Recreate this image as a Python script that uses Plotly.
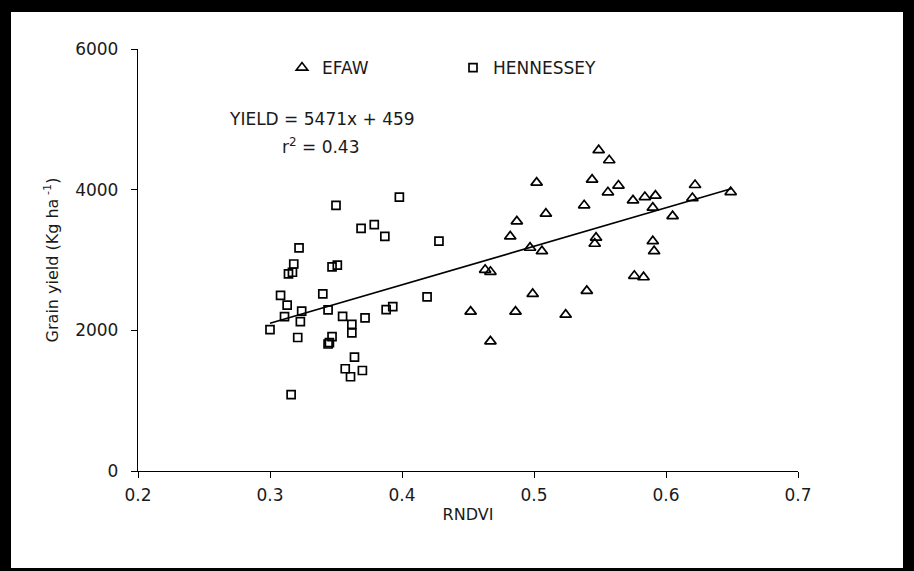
import plotly.graph_objects as go

# ---------------- data ----------------
efaw_rndvi = [0.452, 0.463, 0.467, 0.467, 0.482, 0.486, 0.487, 0.497, 0.499, 0.502,
              0.506, 0.509, 0.524, 0.538, 0.540, 0.544, 0.546, 0.547, 0.549, 0.556,
              0.557, 0.564, 0.575, 0.576, 0.583, 0.584, 0.590, 0.590, 0.591, 0.592,
              0.605, 0.620, 0.622, 0.649]
efaw_yield = [2266, 2860, 2832, 1843, 3335, 2266, 3549, 3174, 2518, 4100,
              3125, 3659, 2223, 3777, 2561, 4143, 3231, 3317, 4561, 3962,
              4418, 4058, 3848, 2775, 2755, 3895, 3744, 3268, 3125, 3915,
              3624, 3881, 4066, 3966]

henn_rndvi = [0.300, 0.308, 0.311, 0.313, 0.314, 0.317, 0.318, 0.322, 0.316, 0.321,
              0.324, 0.323, 0.340, 0.344, 0.344, 0.345, 0.347, 0.347, 0.351, 0.350,
              0.355, 0.357, 0.361, 0.362, 0.362, 0.364, 0.369, 0.370, 0.372, 0.379,
              0.387, 0.388, 0.393, 0.398, 0.419, 0.428]
henn_yield = [2010, 2498, 2195, 2359, 2803, 2826, 2943, 3171, 1086, 1898,
              2273, 2124, 2518, 2290, 1806, 1824, 1910, 2903, 2926, 3777,
              2199, 1454, 1340, 2085, 1963, 1620, 3449, 1429, 2176, 3502,
              3335, 2295, 2337, 3895, 2476, 3268]

fit_slope = 5471
fit_intercept = 459
fit_x = [0.30, 0.65]
fit_y = [fit_slope * v + fit_intercept for v in fit_x]

x_ticks = [0.2, 0.3, 0.4, 0.5, 0.6, 0.7]
y_ticks = [0, 2000, 4000, 6000]

FONT = "DejaVu Sans"
TXT = "#1a1a1a"

fig = go.Figure()

fig.add_trace(go.Scatter(
    x=fit_x, y=fit_y, mode="lines", showlegend=False,
    line=dict(color="black", width=1.6), hoverinfo="skip"))

fig.add_trace(go.Scatter(
    x=efaw_rndvi, y=efaw_yield, mode="markers", name="EFAW", legend="legend",
    marker=dict(symbol="triangle-up-open", size=10, color="black",
                line=dict(color="black", width=1.7))))

fig.add_trace(go.Scatter(
    x=henn_rndvi, y=henn_yield, mode="markers", name="HENNESSEY", legend="legend2",
    marker=dict(symbol="square-open", size=8, color="black",
                line=dict(color="black", width=1.7))))

# paper coordinate helpers (pixel -> paper) for layout placement
L, T, W, H = 138, 49, 660, 422


def px(xpix):
    return (xpix - L) / W


def py(ypix):
    return (T + H - ypix) / H


legend_common = dict(orientation="h", yanchor="middle", xanchor="left",
                     bgcolor="rgba(0,0,0,0)", borderwidth=0,
                     font=dict(family=FONT, size=17, color=TXT))
fig.update_layout(
    legend=dict(x=px(282), y=py(68), **legend_common),
    legend2=dict(x=px(453), y=py(68), **legend_common),
)

fig.add_annotation(x=px(322), y=py(119), xref="paper", yref="paper",
                   xanchor="center", yanchor="middle",
                   text="YIELD = 5471x + 459", showarrow=False,
                   font=dict(family=FONT, size=17, color=TXT))
fig.add_annotation(x=px(320), y=py(146), xref="paper", yref="paper",
                   xanchor="center", yanchor="middle",
                   text="r<sup>2</sup> = 0.43", showarrow=False,
                   font=dict(family=FONT, size=17, color=TXT))

# black picture frame
frame = [(-20, -20, 11, 600), (903, -20, 940, 600), (-20, -20, 940, 12), (-20, 568, 940, 600)]
for x0, y0, x1, y1 in frame:
    fig.add_shape(type="rect", xref="paper", yref="paper",
                  x0=px(x0), x1=px(x1), y0=py(y0), y1=py(y1),
                  fillcolor="black", line=dict(width=0), layer="above")

fig.update_xaxes(
    range=[0.2, 0.7], tickvals=x_ticks, ticktext=[f"{v:.1f}" for v in x_ticks],
    showline=True, linecolor="black", linewidth=1.3, mirror=False,
    ticks="outside", ticklen=6, tickcolor="black", tickwidth=1.3,
    showgrid=False, zeroline=False, ticklabelstandoff=2,
    tickfont=dict(family=FONT, size=17, color=TXT),
    title=dict(text="RNDVI", font=dict(family=FONT, size=16, color=TXT), standoff=5),
)
fig.update_yaxes(
    range=[0, 6000], tickvals=y_ticks, ticktext=[str(v) for v in y_ticks],
    showline=True, linecolor="black", linewidth=1.3, mirror=False,
    ticks="outside", ticklen=6, tickcolor="black", tickwidth=1.3,
    showgrid=False, zeroline=False, ticklabelstandoff=9,
    tickfont=dict(family=FONT, size=17, color=TXT),
    title=dict(text="Grain yield (Kg ha<sup> -1</sup>)",
               font=dict(family=FONT, size=16, color=TXT), standoff=12),
)

fig.update_layout(
    width=914, height=571,
    margin=dict(l=L, r=914 - L - W, t=T, b=571 - T - H),
    paper_bgcolor="white", plot_bgcolor="white",
    hovermode=False,
)

fig.write_html("out.html")
